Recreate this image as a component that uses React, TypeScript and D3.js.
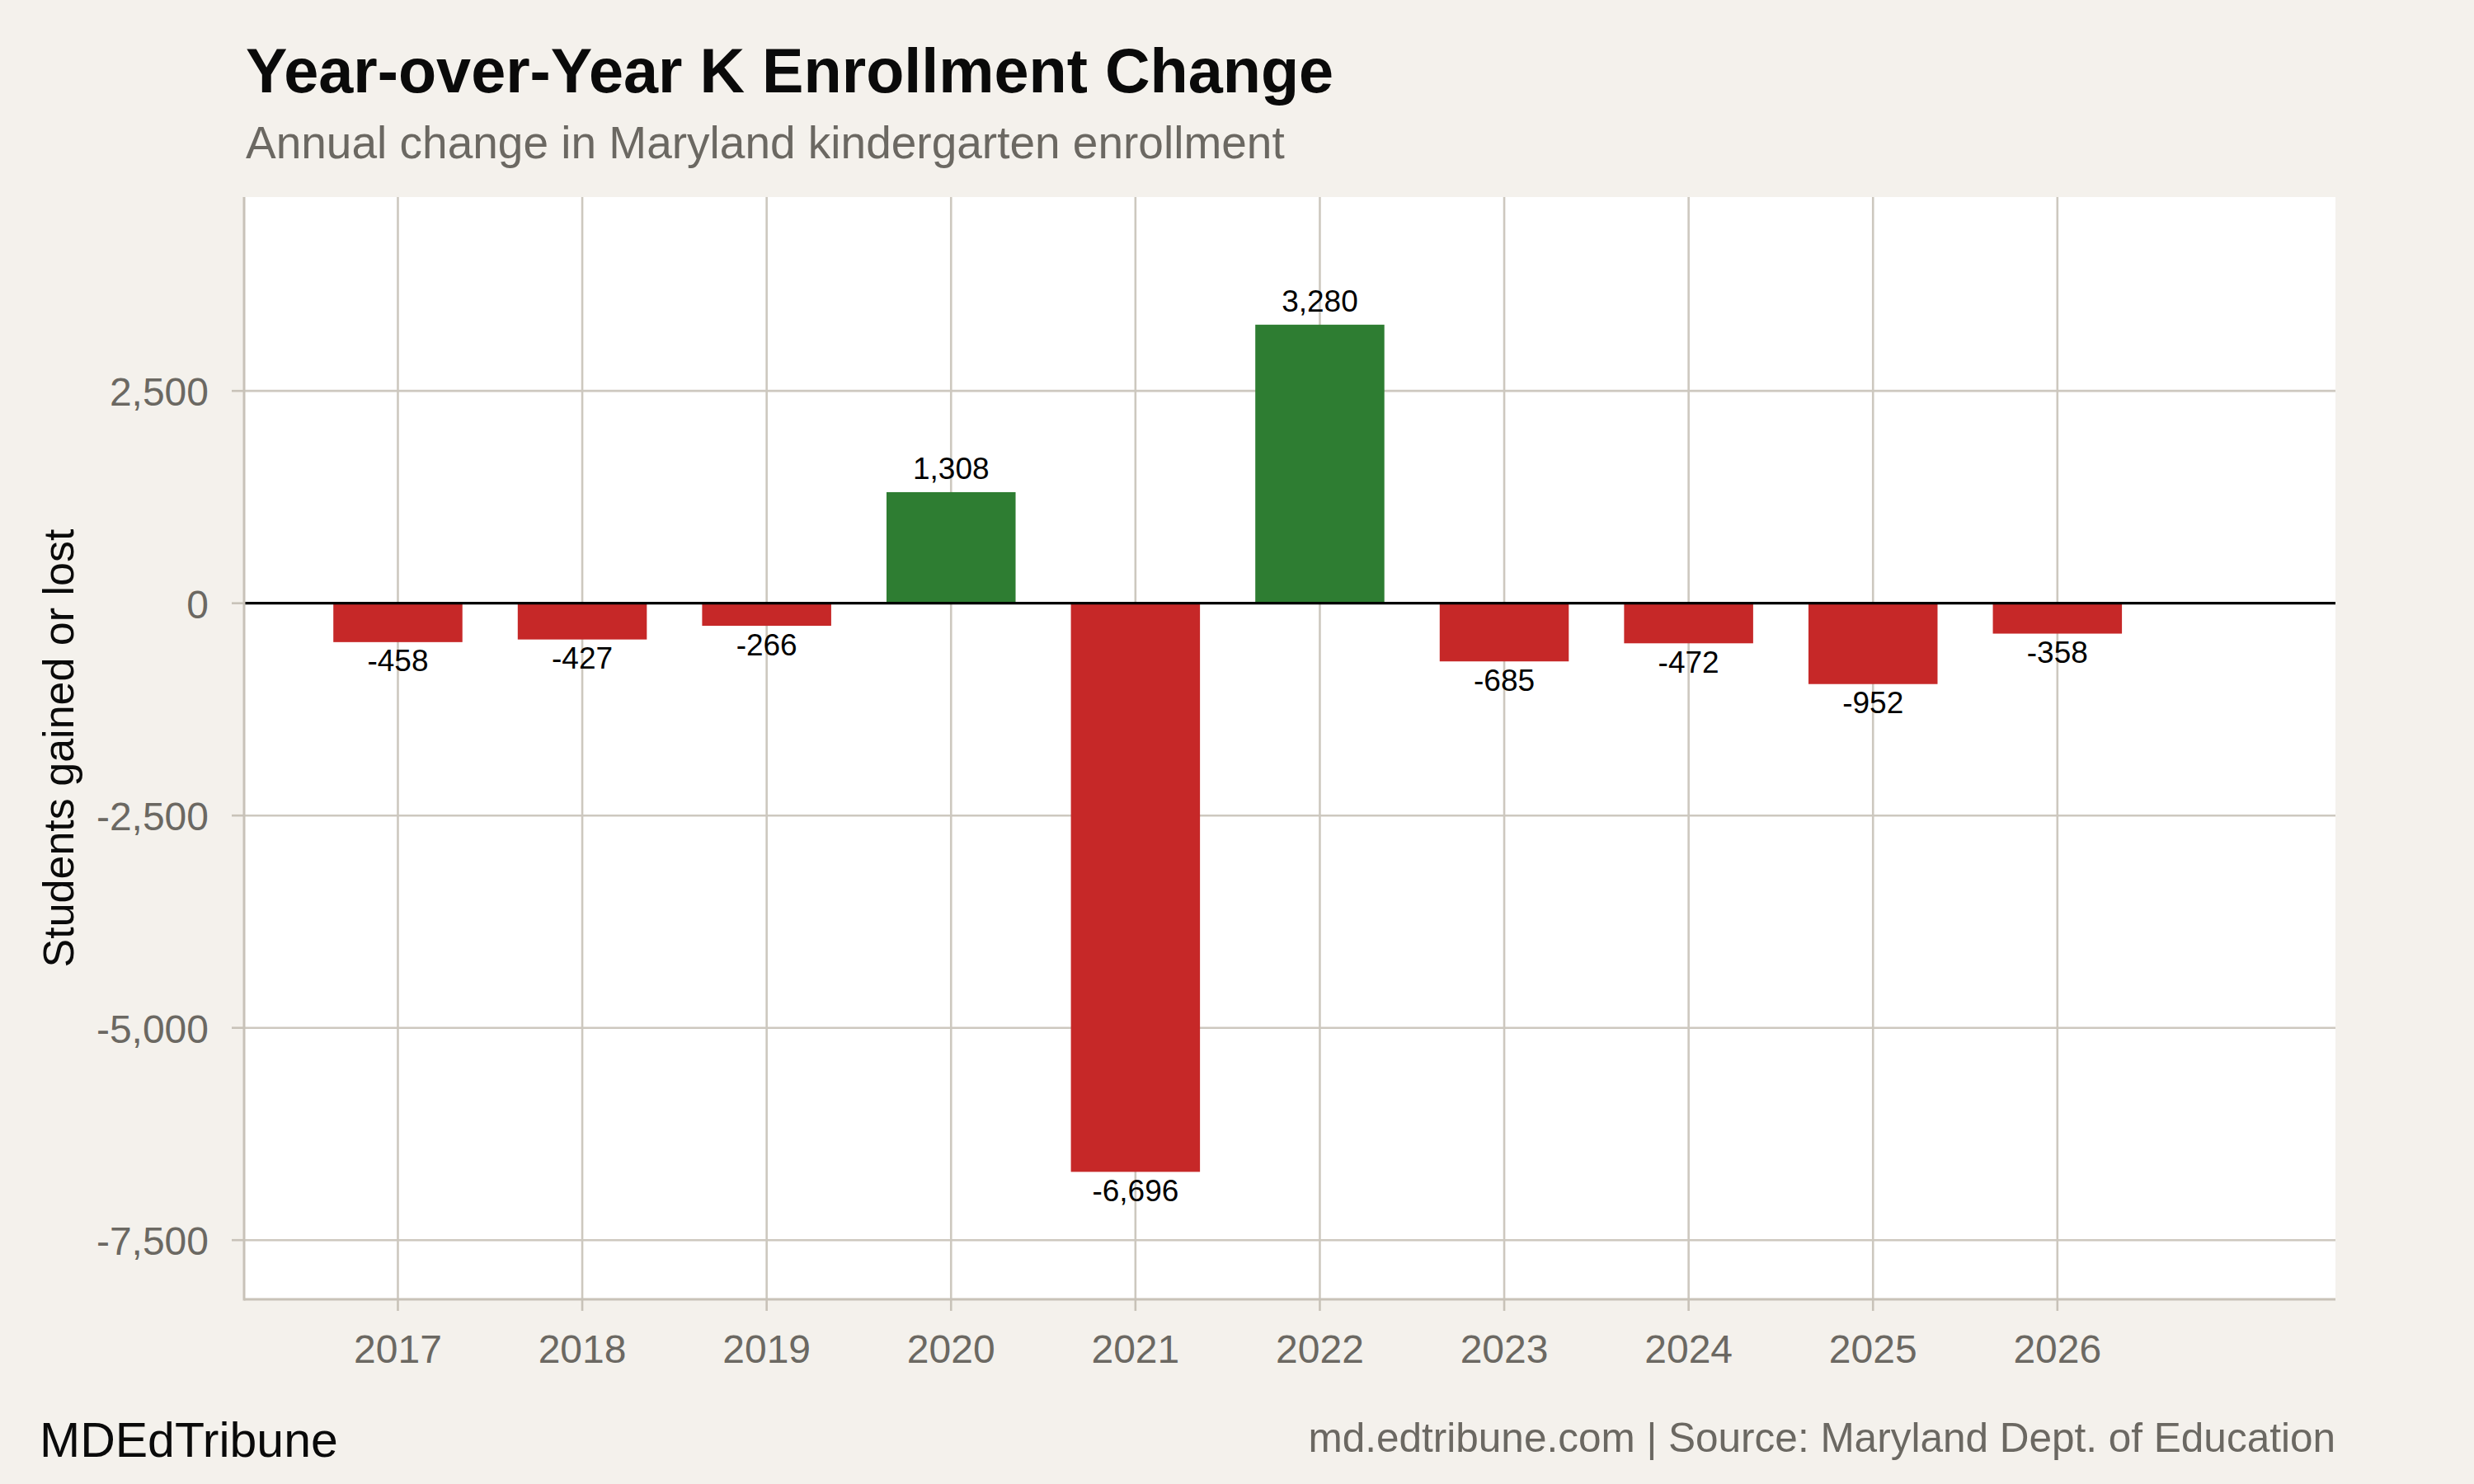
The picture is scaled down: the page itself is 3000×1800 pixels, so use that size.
import React from "react";
import * as d3 from "d3";

const years = [2017, 2018, 2019, 2020, 2021, 2022, 2023, 2024, 2025, 2026];
const changes = [-458, -427, -266, 1308, -6696, 3280, -685, -472, -952, -358];
const yTicks = [-7500, -5000, -2500, 0, 2500];

const W = 3000;
const H = 1800;
const panel = { left: 296, right: 2832, top: 239, bottom: 1576 };

const BG = "#f4f1ec";
const GRID = "#cdc8bf";
const AXIS = "#c8c2b8";
const GRAY = "#6b6862";
const RED = "#c62828";
const GREEN = "#2e7d32";
const FONT = "'Liberation Sans', Arial, Helvetica, sans-serif";

export default function App() {
  const x = d3.scaleLinear().domain([2016.166, 2027.508]).range([panel.left, panel.right]);
  const y = d3.scaleLinear().domain([-8197, 4783]).range([panel.bottom, panel.top]);
  const barW = x(2017.7) - x(2017);
  const f = d3.format(",");
  const fmt = (v: number) => f(v).replace("\u2212", "-");

  return (
    <svg
      width={W}
      height={H}
      style={{ position: "absolute", left: 0, top: 0, display: "block" }}
      fontFamily={FONT}
    >
      <rect x={0} y={0} width={W} height={H} fill={BG} />
      <text x={298} y={111.7} fontSize={75.6} fontWeight="bold" fill="#0a0a0a">
        Year-over-Year K Enrollment Change
      </text>
      <text x={298} y={191.7} fontSize={55} fill={GRAY}>
        Annual change in Maryland kindergarten enrollment
      </text>

      <rect
        x={panel.left}
        y={panel.top}
        width={panel.right - panel.left}
        height={panel.bottom - panel.top}
        fill="#ffffff"
      />
      {yTicks.map((t) => (
        <line
          key={"gy" + t}
          x1={panel.left}
          x2={panel.right}
          y1={y(t)}
          y2={y(t)}
          stroke={GRID}
          strokeWidth={2.6}
        />
      ))}
      {years.map((yr) => (
        <line
          key={"gx" + yr}
          x1={x(yr)}
          x2={x(yr)}
          y1={panel.top}
          y2={panel.bottom}
          stroke={GRID}
          strokeWidth={2.6}
        />
      ))}

      {years.map((yr, i) => {
        const v = changes[i];
        const y0 = y(0);
        const y1 = y(v);
        return (
          <rect
            key={"b" + yr}
            x={x(yr) - barW / 2}
            y={Math.min(y0, y1)}
            width={barW}
            height={Math.abs(y1 - y0)}
            fill={v >= 0 ? GREEN : RED}
          />
        );
      })}

      <line
        x1={panel.left}
        x2={panel.right}
        y1={y(0)}
        y2={y(0)}
        stroke="#000000"
        strokeWidth={3.2}
      />

      {years.map((yr, i) => {
        const v = changes[i];
        const ty = v >= 0 ? y(v) - 15.5 : y(v) + 35.5;
        return (
          <text
            key={"l" + yr}
            x={x(yr)}
            y={ty}
            fontSize={37}
            textAnchor="middle"
            fill="#000000"
          >
            {fmt(v)}
          </text>
        );
      })}

      {/* axis lines */}
      <line
        x1={panel.left}
        x2={panel.left}
        y1={panel.top}
        y2={panel.bottom + 1.5}
        stroke={AXIS}
        strokeWidth={3}
      />
      <line
        x1={panel.left}
        x2={panel.right}
        y1={panel.bottom}
        y2={panel.bottom}
        stroke={AXIS}
        strokeWidth={3}
      />

      {yTicks.map((t) => (
        <g key={"ty" + t}>
          <line
            x1={panel.left - 15}
            x2={panel.left}
            y1={y(t)}
            y2={y(t)}
            stroke={AXIS}
            strokeWidth={2.6}
          />
          <text x={253} y={y(t) + 18} fontSize={48} textAnchor="end" fill={GRAY}>
            {fmt(t)}
          </text>
        </g>
      ))}
      {years.map((yr) => (
        <g key={"tx" + yr}>
          <line
            x1={x(yr)}
            x2={x(yr)}
            y1={panel.bottom}
            y2={panel.bottom + 14}
            stroke={AXIS}
            strokeWidth={2.6}
          />
          <text x={x(yr)} y={1652.7} fontSize={48} textAnchor="middle" fill={GRAY}>
            {yr}
          </text>
        </g>
      ))}

      <text
        transform={`translate(89, ${(panel.top + panel.bottom) / 2}) rotate(-90)`}
        fontSize={52}
        textAnchor="middle"
        fill="#0a0a0a"
      >
        Students gained or lost
      </text>

      <text x={48} y={1766.7} fontSize={59} fill="#0a0a0a">
        MDEdTribune
      </text>
      <text x={2832} y={1760.7} fontSize={49.5} textAnchor="end" fill={GRAY}>
        md.edtribune.com | Source: Maryland Dept. of Education
      </text>
    </svg>
  );
}
